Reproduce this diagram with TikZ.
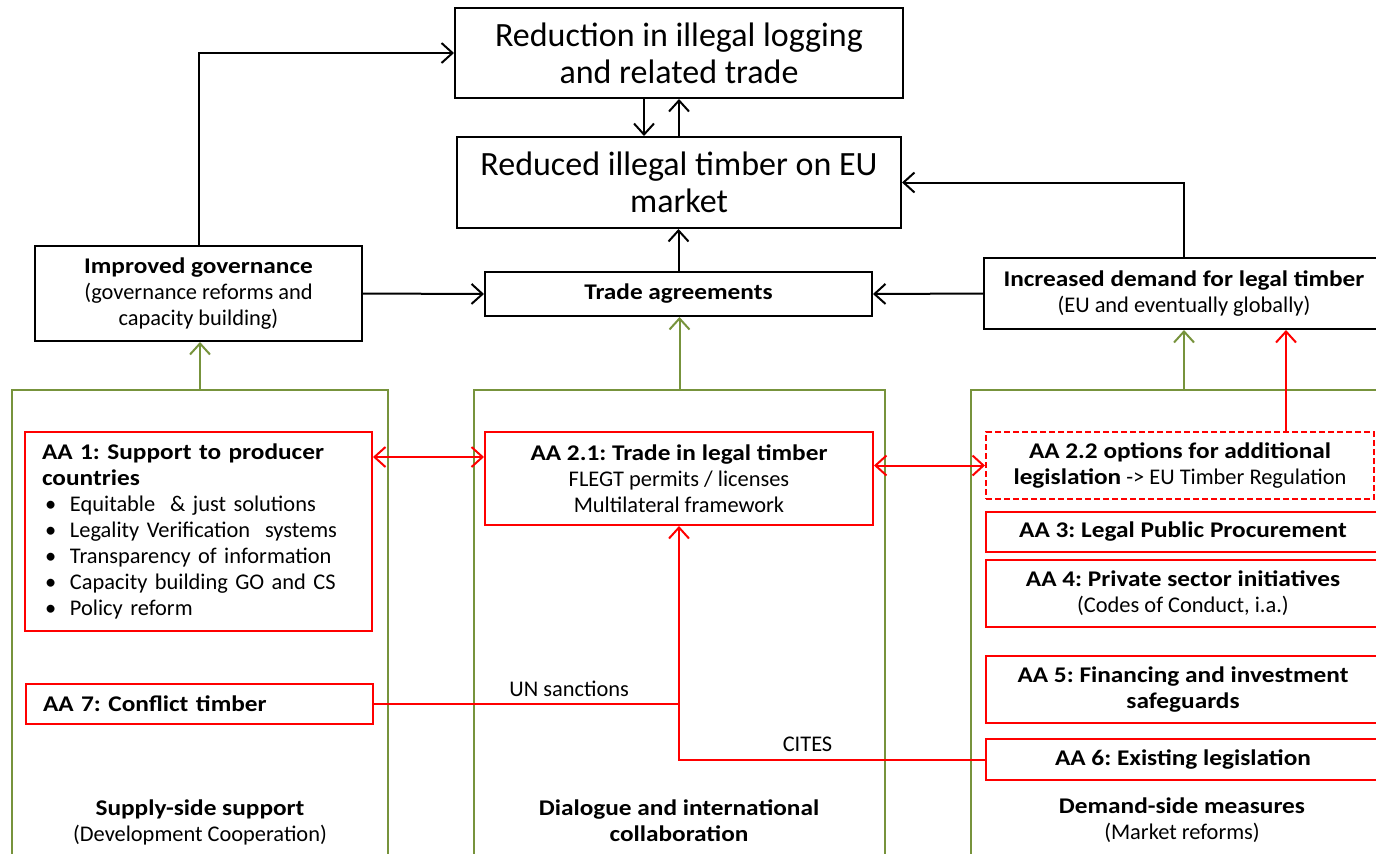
\documentclass[tikz,border=0pt]{standalone}
\usepackage{fontspec}
\setmainfont{Carlito}[BoldFeatures={FakeStretch=1.13}]
\usetikzlibrary{arrows.meta,positioning}

\definecolor{leaf}{RGB}{119,147,60}
\newcommand\bigtext{\fontsize{17}{18.5}\selectfont\frenchspacing}
\newcommand\smalltext{\fontsize{11.2}{13}\selectfont\frenchspacing}
\newcommand\bitem{\makebox[14pt][l]{\hspace{1.5pt}\textbullet}}

\begin{document}
\begin{tikzpicture}[x=0.5pt, y=-0.5pt,
>={Straight Barb[length=5.5pt,width=10pt]},
box/.style={draw, line width=1pt, align=center},
redbox/.style={draw=red, line width=1pt, align=center, font=\smalltext},
column/.style={draw=leaf, line width=1pt},
blk/.style={line width=1pt, ->},
grn/.style={draw=leaf, line width=1pt, ->},
rd/.style={draw=red, line width=1pt}]
\useasboundingbox (0,0) rectangle (1376,853);
% outcomes
\node [box, font=\bigtext, minimum width=224pt, minimum height=45pt] (reduction) at (679,53) {Reduction in illegal logging\\and related trade};
\node [box, font=\bigtext, minimum width=222pt, minimum height=45.5pt] (reduced) at (679,182.5) {Reduced illegal timber on EU\\market};
\node [box, font=\smalltext, minimum width=163.5pt, minimum height=47.5pt] (governance) at (198.5,293.5) {\textbf{Improved governance}\\(governance reforms and\\capacity building)};
\node [box, font=\smalltext, minimum width=193.5pt, minimum height=22pt] (trade) at (678.5,294) {\textbf{Trade agreements}};
\node [box, font=\smalltext, minimum width=200pt, minimum height=35.5pt] (demand) at (1184,293.5) {\textbf{Increased demand for legal timber}\\(EU and eventually globally)};
% columns
\node [column, minimum width=188pt, minimum height=240pt] (supply) at (200,630) {};
\node [column, minimum width=205.5pt, minimum height=240pt] (dialogue) at (679.5,630) {};
\node [column, minimum width=213pt, minimum height=240pt] (demandside) at (1184,630) {};
\node [font=\smalltext, align=center] (supplylabel) at (200,822) {\textbf{Supply-side support}\\(Development Cooperation)};
\node [font=\smalltext, align=center] (dialoguelabel) at (679,821) {\textbf{Dialogue and international}\\\textbf{collaboration}};
\node [font=\smalltext, align=center] (demandlabel) at (1182,820) {\textbf{Demand-side measures}\\(Market reforms)};
% action areas
\node [redbox, align=left, text width=156.5pt, inner xsep=8.5pt, minimum height=99.5pt] (aa1) at (198.5,531.5) {\textbf{AA 1: Support to producer}\\\textbf{countries}\\\bitem Equitable\ \ \& just solutions\\\bitem Legality Verification\ \ systems\\\bitem Transparency of information\\\bitem Capacity building GO and CS\\\bitem Policy reform};
\node [redbox, align=left, text width=156.5pt, inner xsep=8.5pt, minimum height=20pt] (aa7) at (199.5,704) {\textbf{AA 7: Conflict timber}};
\node [redbox, minimum width=194pt, minimum height=46.5pt] (aa21) at (679,478.5) {\textbf{AA 2.1: Trade in legal timber}\\FLEGT permits / licenses\\Multilateral framework};
\node [redbox, dash pattern=on 3pt off 1.5pt, minimum width=194pt, minimum height=33.5pt] (aa22) at (1180,465.5) {\textbf{AA 2.2 options for additional}\\\textbf{legislation} -> EU Timber Regulation};
\node [redbox, minimum width=197pt, minimum height=20pt] (aa3) at (1183,532) {\textbf{AA 3: Legal Public Procurement}};
\node [redbox, minimum width=197pt, minimum height=33.5pt] (aa4) at (1183,593.5) {\textbf{AA 4: Private sector initiatives}\\(Codes of Conduct, i.a.)};
\node [redbox, minimum width=197pt, minimum height=33.5pt] (aa5) at (1183,689.5) {\textbf{AA 5: Financing and investment}\\\textbf{safeguards}};
\node [redbox, minimum width=197pt, minimum height=20.5pt] (aa6) at (1183,759.5) {\textbf{AA 6: Existing legislation}};
\coordinate (h1) at (0,457);
% black links
\draw [blk] (governance.north) |- (reduction.west);
\draw [blk] ([xshift=-17.5pt]reduction.south) -- ([xshift=-17.5pt]reduction.south |- reduced.north);
\draw [blk] (reduced.north) -- (reduction.south);
\draw [blk] (trade.north) -- (trade.north |- reduced.south);
\draw [blk] (governance.east) -- (trade.west);
\draw [blk] (demand.west) -- (trade.east);
\draw [blk] (demand.north) |- (reduced.east);
% green links
\draw [grn] (supply.north) -- (supply.north |- governance.south);
\draw [grn] (dialogue.north) -- (dialogue.north |- trade.south);
\draw [grn] (demandside.north) -- (demandside.north |- demand.south);
% red links
\draw [rd, ->] ([xshift=53pt]aa22.north) -- ([xshift=53pt]aa22.north |- demand.south);
\draw [rd, <->] (aa1.east |- h1) -- (aa21.west |- h1);
\draw [rd, <->] (aa21.east |- aa22.west) -- (aa22.west);
\draw [rd, ->] (aa7.east) -- node [above, pos=0.64, font=\smalltext] {UN sanctions} (aa7.east -| aa21.south) -- (aa21.south);
\draw [rd] (aa6.west) -- node [above, pos=0.58, font=\smalltext] {CITES} (aa6.west -| aa21.south) -- (aa7.east -| aa21.south);
\end{tikzpicture}
\end{document}
